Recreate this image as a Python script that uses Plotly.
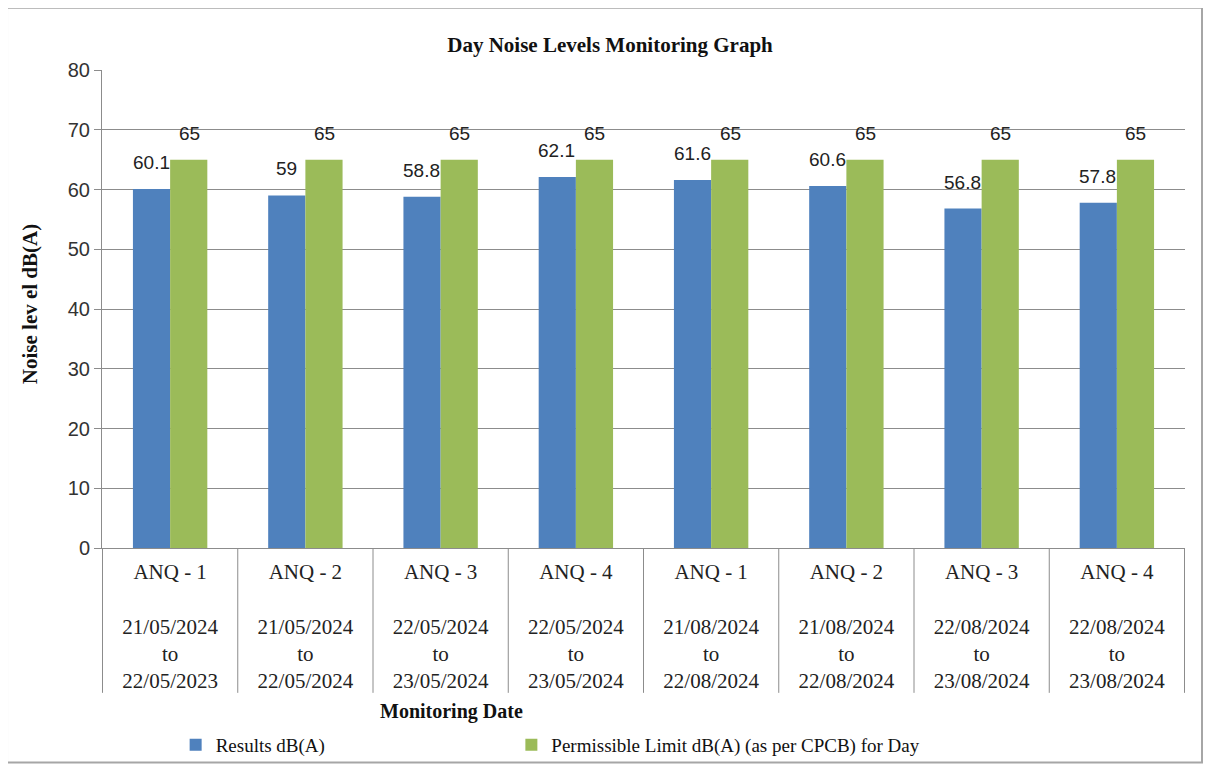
import plotly.graph_objects as go

# stations and monitoring periods (category axis has two text levels)
stations = ["ANQ - 1", "ANQ - 2", "ANQ - 3", "ANQ - 4",
            "ANQ - 1", "ANQ - 2", "ANQ - 3", "ANQ - 4"]
date_from = ["21/05/2024", "21/05/2024", "22/05/2024", "22/05/2024",
             "21/08/2024", "21/08/2024", "22/08/2024", "22/08/2024"]
date_to = ["22/05/2023", "22/05/2024", "23/05/2024", "23/05/2024",
           "22/08/2024", "22/08/2024", "23/08/2024", "23/08/2024"]

results = [60.1, 59, 58.8, 62.1, 61.6, 60.6, 56.8, 57.8]
limit = [65, 65, 65, 65, 65, 65, 65, 65]

y_ticks = [0, 10, 20, 30, 40, 50, 60, 70, 80]

serif = "Liberation Serif"
sans = "Liberation Sans"
blue = "#4F81BD"
green = "#9BBB59"
grey = "#8C8C8C"

cats = ["{}<br><br>{}<br>to<br>{}".format(s, a, b)
        for s, a, b in zip(stations, date_from, date_to)]

fig = go.Figure()
fig.add_trace(go.Bar(x=cats, y=results, name="Results dB(A)",
                     legend="legend",
                     marker=dict(color=blue, line=dict(width=0))))
fig.add_trace(go.Bar(x=cats, y=limit,
                     name="Permissible Limit dB(A) (as per CPCB) for Day",
                     legend="legend2",
                     marker=dict(color=green, line=dict(width=0))))

# data labels, a bit above each bar like the Excel original
for c, r, l in zip(cats, results, limit):
    fig.add_annotation(x=c, y=r, xref="x", yref="y", text=str(r),
                       showarrow=False, xshift=-19, yshift=14, yanchor="bottom",
                       font=dict(family=sans, size=19, color="#222"))
    fig.add_annotation(x=c, y=l, xref="x", yref="y", text=str(l),
                       showarrow=False, xshift=19, yshift=14, yanchor="bottom",
                       font=dict(family=sans, size=19, color="#222"))

# vertical separators between categories, running down through tick labels
for i in range(len(cats) + 1):
    fig.add_shape(type="line", xref="x", yref="paper",
                  x0=i - 0.5, x1=i - 0.5, y0=0, y1=-0.303,
                  line=dict(color=grey, width=1))

# outer chart frame
fig.add_shape(type="rect", xref="paper", yref="paper",
              x0=-0.0877, x1=1.0157, y0=-0.449, y1=1.13,
              line=dict(color="#A6A6A6", width=2))

fig.add_annotation(text="<b>Monitoring Date</b>", xref="paper", yref="paper",
                   x=0.323, y=-0.343, showarrow=False,
                   xanchor="center", yanchor="middle",
                   font=dict(family=serif, size=20, color="#111"))
fig.add_annotation(text="<b>Noise lev el dB(A)</b>", xref="paper", yref="paper",
                   x=-0.0665, y=0.51, showarrow=False, textangle=-90,
                   xanchor="center", yanchor="middle",
                   font=dict(family=serif, size=21, color="#111"))

legend_font = dict(family=serif, size=19, color="#111")

# page body adds an 8px offset, so the figure is drawn 8px smaller
fig.update_layout(
    width=1204, height=761,
    margin=dict(l=94, r=27, t=62, b=221, autoexpand=False),
    paper_bgcolor="white", plot_bgcolor="white",
    barmode="group", bargap=0.45, bargroupgap=0,
    title=dict(text="<b>Day Noise Levels Monitoring Graph</b>",
               x=0.5, xanchor="center", y=1 - 37 / 761, yanchor="middle",
               font=dict(family=serif, size=21, color="#111")),
    xaxis=dict(type="category", showgrid=False, showline=True,
               linecolor=grey, linewidth=1, ticks="", automargin=False,
               ticklabelstandoff=5,
               tickfont=dict(family=serif, size=21, color="#222")),
    yaxis=dict(range=[0, 80], tickvals=y_ticks, showgrid=True,
               gridcolor=grey, gridwidth=1, showline=True, linecolor=grey,
               linewidth=1, ticks="outside", ticklen=7, tickcolor=grey,
               zeroline=False, automargin=False,
               tickfont=dict(family=sans, size=20, color="#333")),
    showlegend=True,
    legend=dict(orientation="h", x=0.068, y=-0.412, xanchor="left",
                yanchor="middle", font=legend_font, itemwidth=30,
                bgcolor="rgba(0,0,0,0)"),
    legend2=dict(orientation="h", x=0.378, y=-0.412, xanchor="left",
                 yanchor="middle", font=legend_font, itemwidth=30,
                 bgcolor="rgba(0,0,0,0)"),
)

fig.write_html("out.html")
